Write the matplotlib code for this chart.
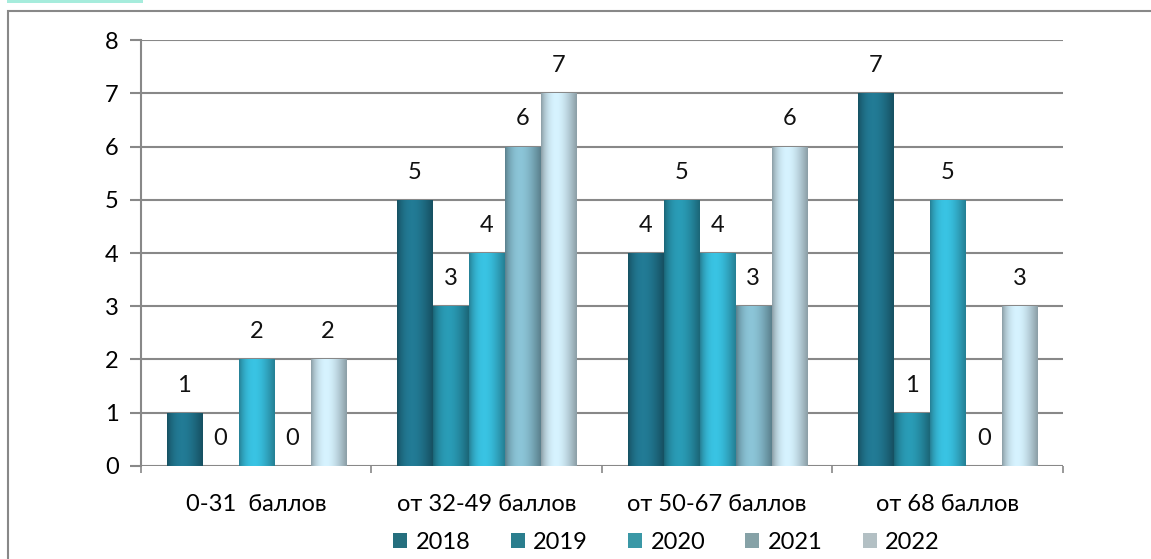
import numpy as np
import matplotlib
matplotlib.use("Agg")
import matplotlib.pyplot as plt
from matplotlib.colors import to_rgb
from matplotlib.patches import Patch, Rectangle

categories = ["0-31  баллов", "от 32-49 баллов", "от 50-67 баллов", "от 68 баллов"]
years = ["2018", "2019", "2020", "2021", "2022"]
values_2018 = [1, 5, 4, 7]
values_2019 = [0, 3, 5, 1]
values_2020 = [2, 4, 4, 5]
values_2021 = [0, 6, 3, 0]
values_2022 = [2, 7, 6, 3]
series = [values_2018, values_2019, values_2020, values_2021, values_2022]
colors = ["#1f7088", "#268ea6", "#34b2cf", "#7fb3c4", "#c3dde8"]
legend_colors = ["#256f7e", "#2a7e8e", "#3a98a6", "#86a2a7", "#b3c0c4"]
y_ticks = list(range(0, 9))

plt.rcParams["font.family"] = ["Lato", "DejaVu Sans"]

fig = plt.figure(figsize=(11.51, 5.59), dpi=100)
ax = fig.add_axes([0.1225, 0.1664, 0.801, 0.762])

x = np.arange(len(categories))
width = 0.152
pitch = 0.156


def shade(color):
    base = np.array(to_rgb(color))
    t = np.linspace(0, 1, 40)
    f = 0.72 + 0.38 * np.sin(np.pi * t ** 0.8)
    rgb = np.clip(base[None, :] * f[:, None], 0, 1)
    return rgb[None, :, :]


for i, (vals, col) in enumerate(zip(series, colors)):
    pos = x + (i - 2) * pitch
    bars = ax.bar(pos, vals, width=width, color=col, zorder=3, linewidth=0)
    for b, v in zip(bars, vals):
        if v > 0:
            im = ax.imshow(shade(col), extent=(b.get_x(), b.get_x() + b.get_width(), 0, v),
                           aspect="auto", zorder=3.5, interpolation="bicubic")
            im.set_clip_path(b)
        ax.text(b.get_x() + b.get_width() / 2, v + 0.52, str(v), ha="center", va="center",
                fontsize=17, color="#111111", zorder=5)

ax.set_xlim(-0.5, len(categories) - 0.5)
ax.set_ylim(0, 8)
ax.set_yticks(y_ticks)
ax.set_yticklabels([str(t) for t in y_ticks])
ax.set_xticks(np.arange(len(categories) + 1) - 0.5, minor=True)
ax.set_xticks(x)
ax.set_xticklabels(categories)
ax.tick_params(axis="x", which="major", length=0, pad=20, labelsize=17)
ax.tick_params(axis="x", which="minor", length=5, color="#888888", width=1.2)
ax.tick_params(axis="y", length=8, color="#888888", width=1.5, pad=8, labelsize=17)
ax.grid(axis="y", color="#888888", linewidth=1.5, zorder=1)
ax.set_axisbelow(True)
for side in ["top", "right", "bottom"]:
    ax.spines[side].set_visible(False)
ax.spines["left"].set_color("#888888")
ax.spines["left"].set_linewidth(1.5)

handles = [Patch(facecolor=c, edgecolor="none", label=y) for c, y in zip(legend_colors, years)]
fig.legend(handles=handles, loc="center", bbox_to_anchor=(0.579, 0.03), ncol=5,
           frameon=False, fontsize=17, handlelength=0.6, handleheight=0.6,
           handletextpad=0.35, columnspacing=1.7)

# outer chart frame and accent strip
fig.add_artist(Rectangle((8 / 1151, -0.01), 1.1, 1 - 11 / 559 + 0.01, transform=fig.transFigure,
                         fill=False, edgecolor="#888888", linewidth=1.5))
fig.add_artist(Rectangle((7 / 1151, 1 - 3 / 559), 136 / 1151, 3 / 559, transform=fig.transFigure,
                         facecolor="#a6ecdc", edgecolor="none"))

fig.savefig("out.png", dpi=100)
